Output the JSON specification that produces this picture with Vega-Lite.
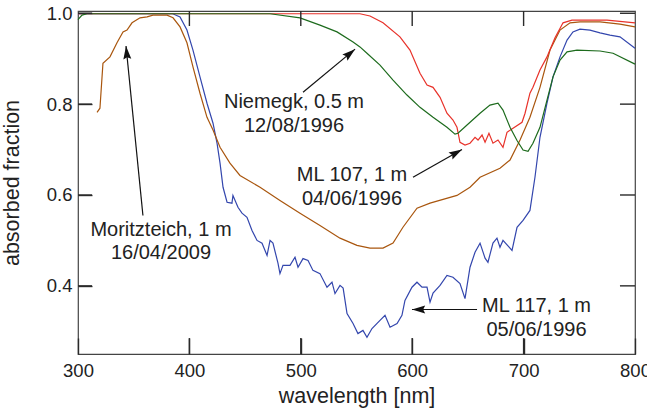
{
  "$schema": "https://vega.github.io/schema/vega-lite/v6.json",
  "width": 557,
  "height": 343,
  "autosize": {"type": "none"},
  "padding": {"left": 78, "top": 11, "right": 12, "bottom": 55},
  "background": "white",
  "config": {
    "view": {"stroke": "#444", "strokeWidth": 1.2},
    "axis": {
      "grid": false,
      "labelFlush": false,
      "labelOverlap": false,
      "labelFont": "Liberation Sans",
      "labelFontSize": 18.5,
      "labelColor": "#222",
      "titleFont": "Liberation Sans",
      "titleFontSize": 21.5,
      "titleFontWeight": "normal",
      "titleColor": "#222"
    },
    "text": {"font": "Liberation Sans"}
  },
  "datasets": {
    "curves": [
      {"s": "ML117", "wl": 300, "a": 0.999}, {"s": "ML117", "wl": 385, "a": 0.999}, {"s": "ML117", "wl": 391.6, "a": 0.992}, {"s": "ML117", "wl": 397.8, "a": 0.963}, {"s": "ML117", "wl": 403.2, "a": 0.919}, {"s": "ML117", "wl": 409.5, "a": 0.86}, {"s": "ML117", "wl": 415.8, "a": 0.802}, {"s": "ML117", "wl": 421.2, "a": 0.758}, {"s": "ML117", "wl": 424.8, "a": 0.714}, {"s": "ML117", "wl": 427.5, "a": 0.67}, {"s": "ML117", "wl": 430.2, "a": 0.617}, {"s": "ML117", "wl": 433.8, "a": 0.584}, {"s": "ML117", "wl": 438.2, "a": 0.582}, {"s": "ML117", "wl": 439.1, "a": 0.599}, {"s": "ML117", "wl": 443.6, "a": 0.573}, {"s": "ML117", "wl": 447.2, "a": 0.56}, {"s": "ML117", "wl": 451.7, "a": 0.551}, {"s": "ML117", "wl": 456.2, "a": 0.522}, {"s": "ML117", "wl": 460.7, "a": 0.5}, {"s": "ML117", "wl": 465.2, "a": 0.494}, {"s": "ML117", "wl": 469.7, "a": 0.467}, {"s": "ML117", "wl": 472.4, "a": 0.5}, {"s": "ML117", "wl": 475.0, "a": 0.494}, {"s": "ML117", "wl": 479.5, "a": 0.45}, {"s": "ML117", "wl": 481.3, "a": 0.427}, {"s": "ML117", "wl": 484.0, "a": 0.445}, {"s": "ML117", "wl": 490.3, "a": 0.445}, {"s": "ML117", "wl": 494.8, "a": 0.463}, {"s": "ML117", "wl": 497.5, "a": 0.441}, {"s": "ML117", "wl": 502.0, "a": 0.46}, {"s": "ML117", "wl": 506.5, "a": 0.456}, {"s": "ML117", "wl": 510.9, "a": 0.434}, {"s": "ML117", "wl": 517.2, "a": 0.427}, {"s": "ML117", "wl": 523.5, "a": 0.397}, {"s": "ML117", "wl": 528.0, "a": 0.408}, {"s": "ML117", "wl": 530.7, "a": 0.383}, {"s": "ML117", "wl": 535.2, "a": 0.401}, {"s": "ML117", "wl": 538.0, "a": 0.395}, {"s": "ML117", "wl": 541.5, "a": 0.339}, {"s": "ML117", "wl": 546.9, "a": 0.317}, {"s": "ML117", "wl": 551.3, "a": 0.295}, {"s": "ML117", "wl": 555.8, "a": 0.302}, {"s": "ML117", "wl": 559.4, "a": 0.287}, {"s": "ML117", "wl": 563.9, "a": 0.306}, {"s": "ML117", "wl": 571.1, "a": 0.324}, {"s": "ML117", "wl": 575.6, "a": 0.335}, {"s": "ML117", "wl": 580.1, "a": 0.309}, {"s": "ML117", "wl": 586.4, "a": 0.317}, {"s": "ML117", "wl": 590.8, "a": 0.335}, {"s": "ML117", "wl": 593.5, "a": 0.368}, {"s": "ML117", "wl": 599.8, "a": 0.397}, {"s": "ML117", "wl": 604.3, "a": 0.408}, {"s": "ML117", "wl": 608.8, "a": 0.397}, {"s": "ML117", "wl": 613.3, "a": 0.397}, {"s": "ML117", "wl": 616.0, "a": 0.364}, {"s": "ML117", "wl": 618.7, "a": 0.384}, {"s": "ML117", "wl": 625.0, "a": 0.401}, {"s": "ML117", "wl": 631.2, "a": 0.423}, {"s": "ML117", "wl": 636.6, "a": 0.419}, {"s": "ML117", "wl": 642.9, "a": 0.405}, {"s": "ML117", "wl": 647.4, "a": 0.372}, {"s": "ML117", "wl": 651.9, "a": 0.441}, {"s": "ML117", "wl": 656.4, "a": 0.474}, {"s": "ML117", "wl": 660.9, "a": 0.494}, {"s": "ML117", "wl": 665.4, "a": 0.461}, {"s": "ML117", "wl": 668.0, "a": 0.452}, {"s": "ML117", "wl": 672.5, "a": 0.494}, {"s": "ML117", "wl": 676.1, "a": 0.505}, {"s": "ML117", "wl": 678.8, "a": 0.485}, {"s": "ML117", "wl": 681.5, "a": 0.5}, {"s": "ML117", "wl": 689.6, "a": 0.478}, {"s": "ML117", "wl": 694.1, "a": 0.529}, {"s": "ML117", "wl": 699.5, "a": 0.544}, {"s": "ML117", "wl": 705.7, "a": 0.566}, {"s": "ML117", "wl": 710.2, "a": 0.639}, {"s": "ML117", "wl": 714.7, "a": 0.727}, {"s": "ML117", "wl": 721.0, "a": 0.802}, {"s": "ML117", "wl": 726.4, "a": 0.86}, {"s": "ML117", "wl": 732.7, "a": 0.904}, {"s": "ML117", "wl": 739.0, "a": 0.941}, {"s": "ML117", "wl": 744.3, "a": 0.959}, {"s": "ML117", "wl": 750.6, "a": 0.965}, {"s": "ML117", "wl": 759.6, "a": 0.963}, {"s": "ML117", "wl": 768.6, "a": 0.957}, {"s": "ML117", "wl": 777.5, "a": 0.952}, {"s": "ML117", "wl": 786.5, "a": 0.948}, {"s": "ML117", "wl": 800, "a": 0.923},

      {"s": "Moritzteich", "wl": 317.1, "a": 0.782}, {"s": "Moritzteich", "wl": 319.7, "a": 0.791}, {"s": "Moritzteich", "wl": 322.4, "a": 0.89}, {"s": "Moritzteich", "wl": 328.7, "a": 0.904}, {"s": "Moritzteich", "wl": 335.0, "a": 0.935}, {"s": "Moritzteich", "wl": 340.4, "a": 0.959}, {"s": "Moritzteich", "wl": 344.0, "a": 0.963}, {"s": "Moritzteich", "wl": 348.5, "a": 0.979}, {"s": "Moritzteich", "wl": 355.7, "a": 0.99}, {"s": "Moritzteich", "wl": 362.0, "a": 0.992}, {"s": "Moritzteich", "wl": 367.3, "a": 0.996}, {"s": "Moritzteich", "wl": 379.9, "a": 0.996}, {"s": "Moritzteich", "wl": 385.3, "a": 0.99}, {"s": "Moritzteich", "wl": 391.6, "a": 0.97}, {"s": "Moritzteich", "wl": 397.8, "a": 0.935}, {"s": "Moritzteich", "wl": 403.2, "a": 0.882}, {"s": "Moritzteich", "wl": 409.5, "a": 0.824}, {"s": "Moritzteich", "wl": 415.8, "a": 0.771}, {"s": "Moritzteich", "wl": 421.2, "a": 0.743}, {"s": "Moritzteich", "wl": 427.5, "a": 0.705}, {"s": "Moritzteich", "wl": 436.4, "a": 0.67}, {"s": "Moritzteich", "wl": 445.4, "a": 0.643}, {"s": "Moritzteich", "wl": 463.4, "a": 0.617}, {"s": "Moritzteich", "wl": 481.3, "a": 0.588}, {"s": "Moritzteich", "wl": 499.3, "a": 0.56}, {"s": "Moritzteich", "wl": 517.2, "a": 0.533}, {"s": "Moritzteich", "wl": 535.2, "a": 0.505}, {"s": "Moritzteich", "wl": 550.4, "a": 0.489}, {"s": "Moritzteich", "wl": 562.1, "a": 0.483}, {"s": "Moritzteich", "wl": 573.8, "a": 0.483}, {"s": "Moritzteich", "wl": 582.8, "a": 0.494}, {"s": "Moritzteich", "wl": 591.7, "a": 0.529}, {"s": "Moritzteich", "wl": 604.3, "a": 0.571}, {"s": "Moritzteich", "wl": 616.0, "a": 0.582}, {"s": "Moritzteich", "wl": 640.2, "a": 0.599}, {"s": "Moritzteich", "wl": 651.9, "a": 0.617}, {"s": "Moritzteich", "wl": 660.9, "a": 0.639}, {"s": "Moritzteich", "wl": 678.8, "a": 0.659}, {"s": "Moritzteich", "wl": 687.8, "a": 0.677}, {"s": "Moritzteich", "wl": 696.8, "a": 0.721}, {"s": "Moritzteich", "wl": 705.7, "a": 0.771}, {"s": "Moritzteich", "wl": 714.7, "a": 0.837}, {"s": "Moritzteich", "wl": 723.7, "a": 0.919}, {"s": "Moritzteich", "wl": 732.7, "a": 0.963}, {"s": "Moritzteich", "wl": 741.7, "a": 0.979}, {"s": "Moritzteich", "wl": 750.6, "a": 0.981}, {"s": "Moritzteich", "wl": 768.6, "a": 0.981}, {"s": "Moritzteich", "wl": 786.5, "a": 0.976}, {"s": "Moritzteich", "wl": 800, "a": 0.97},

      {"s": "ML107", "wl": 300, "a": 0.999}, {"s": "ML107", "wl": 553.1, "a": 0.999}, {"s": "ML107", "wl": 562.1, "a": 0.994}, {"s": "ML107", "wl": 573.8, "a": 0.979}, {"s": "ML107", "wl": 589.0, "a": 0.948}, {"s": "ML107", "wl": 598.0, "a": 0.919}, {"s": "ML107", "wl": 607.0, "a": 0.868}, {"s": "ML107", "wl": 613.3, "a": 0.842}, {"s": "ML107", "wl": 618.7, "a": 0.837}, {"s": "ML107", "wl": 625.0, "a": 0.815}, {"s": "ML107", "wl": 631.2, "a": 0.78}, {"s": "ML107", "wl": 636.6, "a": 0.765}, {"s": "ML107", "wl": 640.2, "a": 0.749}, {"s": "ML107", "wl": 642.9, "a": 0.716}, {"s": "ML107", "wl": 647.4, "a": 0.71}, {"s": "ML107", "wl": 651.9, "a": 0.714}, {"s": "ML107", "wl": 656.4, "a": 0.727}, {"s": "ML107", "wl": 659.1, "a": 0.721}, {"s": "ML107", "wl": 662.7, "a": 0.732}, {"s": "ML107", "wl": 665.4, "a": 0.716}, {"s": "ML107", "wl": 668.9, "a": 0.736}, {"s": "ML107", "wl": 672.5, "a": 0.714}, {"s": "ML107", "wl": 677.0, "a": 0.721}, {"s": "ML107", "wl": 681.5, "a": 0.705}, {"s": "ML107", "wl": 685.1, "a": 0.738}, {"s": "ML107", "wl": 690.5, "a": 0.747}, {"s": "ML107", "wl": 698.6, "a": 0.76}, {"s": "ML107", "wl": 701.3, "a": 0.78}, {"s": "ML107", "wl": 705.7, "a": 0.824}, {"s": "ML107", "wl": 708.4, "a": 0.837}, {"s": "ML107", "wl": 714.7, "a": 0.875}, {"s": "ML107", "wl": 721.0, "a": 0.904}, {"s": "ML107", "wl": 728.2, "a": 0.946}, {"s": "ML107", "wl": 735.4, "a": 0.979}, {"s": "ML107", "wl": 743.4, "a": 0.985}, {"s": "ML107", "wl": 774.9, "a": 0.985}, {"s": "ML107", "wl": 800, "a": 0.979},

      {"s": "Niemegk", "wl": 300, "a": 0.986}, {"s": "Niemegk", "wl": 303.6, "a": 0.996}, {"s": "Niemegk", "wl": 308.1, "a": 0.999}, {"s": "Niemegk", "wl": 472.4, "a": 0.999}, {"s": "Niemegk", "wl": 499.3, "a": 0.99}, {"s": "Niemegk", "wl": 517.2, "a": 0.974}, {"s": "Niemegk", "wl": 532.5, "a": 0.959}, {"s": "Niemegk", "wl": 546.9, "a": 0.937}, {"s": "Niemegk", "wl": 553.1, "a": 0.926}, {"s": "Niemegk", "wl": 559.4, "a": 0.912}, {"s": "Niemegk", "wl": 571.1, "a": 0.886}, {"s": "Niemegk", "wl": 582.8, "a": 0.853}, {"s": "Niemegk", "wl": 595.3, "a": 0.82}, {"s": "Niemegk", "wl": 607.0, "a": 0.793}, {"s": "Niemegk", "wl": 618.7, "a": 0.771}, {"s": "Niemegk", "wl": 631.2, "a": 0.749}, {"s": "Niemegk", "wl": 638.4, "a": 0.734}, {"s": "Niemegk", "wl": 641.1, "a": 0.736}, {"s": "Niemegk", "wl": 649.2, "a": 0.754}, {"s": "Niemegk", "wl": 660.9, "a": 0.78}, {"s": "Niemegk", "wl": 669.8, "a": 0.798}, {"s": "Niemegk", "wl": 677.0, "a": 0.802}, {"s": "Niemegk", "wl": 681.5, "a": 0.787}, {"s": "Niemegk", "wl": 687.8, "a": 0.749}, {"s": "Niemegk", "wl": 694.1, "a": 0.72}, {"s": "Niemegk", "wl": 699.5, "a": 0.699}, {"s": "Niemegk", "wl": 704.0, "a": 0.696}, {"s": "Niemegk", "wl": 708.4, "a": 0.714}, {"s": "Niemegk", "wl": 714.7, "a": 0.749}, {"s": "Niemegk", "wl": 721.0, "a": 0.809}, {"s": "Niemegk", "wl": 726.4, "a": 0.86}, {"s": "Niemegk", "wl": 732.7, "a": 0.897}, {"s": "Niemegk", "wl": 739.0, "a": 0.915}, {"s": "Niemegk", "wl": 747.9, "a": 0.919}, {"s": "Niemegk", "wl": 768.6, "a": 0.917}, {"s": "Niemegk", "wl": 780.3, "a": 0.912}, {"s": "Niemegk", "wl": 800, "a": 0.888}
    ],
    "labels": [
      {"t": "Moritzteich, 1 m", "wl": 374.5, "a": 0.524},
      {"t": "16/04/2009", "wl": 374.5, "a": 0.473},
      {"t": "Niemegk, 0.5 m", "wl": 493.9, "a": 0.804},
      {"t": "12/08/1996", "wl": 493.9, "a": 0.751},
      {"t": "ML 107, 1 m", "wl": 546.0, "a": 0.643},
      {"t": "04/06/1996", "wl": 546.0, "a": 0.591},
      {"t": "ML 117, 1 m", "wl": 711.6, "a": 0.355},
      {"t": "05/06/1996", "wl": 711.6, "a": 0.302}
    ],
    "arrows": [
      {"wl": 358.3, "a": 0.555, "wl2": 343.1, "a2": 0.928},
      {"wl": 502.0, "a": 0.826, "wl2": 548.7, "a2": 0.921},
      {"wl": 600.7, "a": 0.639, "wl2": 644.7, "a2": 0.7},
      {"wl": 658.2, "a": 0.348, "wl2": 599.8, "a2": 0.348}
    ],
    "xticks": [{"v": 400}, {"v": 500}, {"v": 600}, {"v": 700}],
    "yticks": [{"v": 0.4}, {"v": 0.6}, {"v": 0.8}, {"v": 1.0}]
  },
  "layer": [
    {
      "data": {"name": "curves"},
      "mark": {"type": "line", "strokeWidth": 1.2},
      "encoding": {
        "x": {
          "field": "wl", "type": "quantitative",
          "scale": {"domain": [300, 800], "nice": false, "zero": false},
          "axis": {"orient": "bottom", "values": [300, 400, 500, 600, 700, 800], "ticks": true, "tickSize": -16, "tickColor": "#2a2a2a", "tickWidth": 1.4, "domain": false, "labelPadding": 23, "title": "wavelength [nm]", "titlePadding": 6}
        },
        "y": {
          "field": "a", "type": "quantitative",
          "scale": {"domain": [0.25, 1.005], "nice": false, "zero": false},
          "axis": {"orient": "left", "values": [0.4, 0.6, 0.8, 1.0], "format": ".1f", "ticks": true, "tickSize": -14, "tickColor": "#2a2a2a", "tickWidth": 1.4, "domain": false, "labelPadding": 20, "title": "absorbed fraction", "titlePadding": 23}
        },
        "color": {
          "field": "s", "type": "nominal",
          "scale": {"domain": ["Niemegk", "ML107", "Moritzteich", "ML117"], "range": ["#1d6b1d", "#e8322a", "#a9560e", "#3346ad"]},
          "legend": null
        }
      }
    },
    {
      "data": {"name": "labels"},
      "mark": {"type": "text", "fontSize": 20, "color": "#222", "align": "center", "baseline": "middle"},
      "encoding": {
        "x": {"field": "wl", "type": "quantitative"},
        "y": {"field": "a", "type": "quantitative"},
        "text": {"field": "t"}
      }
    },
    {
      "data": {"name": "arrows"},
      "mark": {"type": "rule", "color": "#111", "strokeWidth": 1.2},
      "encoding": {
        "x": {"field": "wl", "type": "quantitative"},
        "y": {"field": "a", "type": "quantitative"},
        "x2": {"field": "wl2"},
        "y2": {"field": "a2"}
      }
    },
    {
      "data": {"name": "arrows"},
      "transform": [{"calculate": "atan2((datum.wl2-datum.wl)*1.114,(datum.a2-datum.a)*454.3)*180/PI", "as": "ang"}],
      "mark": {"type": "point", "shape": "M0,0L0.5,1.65L0,1.4L-0.5,1.65Z", "filled": true, "color": "#111", "opacity": 1, "size": 256},
      "encoding": {
        "x": {"field": "wl2", "type": "quantitative"},
        "y": {"field": "a2", "type": "quantitative"},
        "angle": {"field": "ang", "type": "quantitative", "scale": null}
      }
    },
    {
      "data": {"name": "xticks"},
      "mark": {"type": "rule", "color": "#2a2a2a", "strokeWidth": 1.4},
      "encoding": {
        "x": {"field": "v", "type": "quantitative"},
        "y": {"datum": 0.25, "type": "quantitative"},
        "y2": {"datum": 0.285}
      }
    },
    {
      "data": {"name": "xticks"},
      "mark": {"type": "rule", "color": "#2a2a2a", "strokeWidth": 1.4},
      "encoding": {
        "x": {"field": "v", "type": "quantitative"},
        "y": {"datum": 1.005, "type": "quantitative"},
        "y2": {"datum": 0.972}
      }
    },
    {
      "data": {"name": "yticks"},
      "mark": {"type": "rule", "color": "#2a2a2a", "strokeWidth": 1.4},
      "encoding": {
        "y": {"field": "v", "type": "quantitative"},
        "x": {"datum": 300, "type": "quantitative"},
        "x2": {"datum": 312.6}
      }
    },
    {
      "data": {"name": "yticks"},
      "mark": {"type": "rule", "color": "#2a2a2a", "strokeWidth": 1.4},
      "encoding": {
        "y": {"field": "v", "type": "quantitative"},
        "x": {"datum": 800, "type": "quantitative"},
        "x2": {"datum": 786.5}
      }
    }
  ]
}
